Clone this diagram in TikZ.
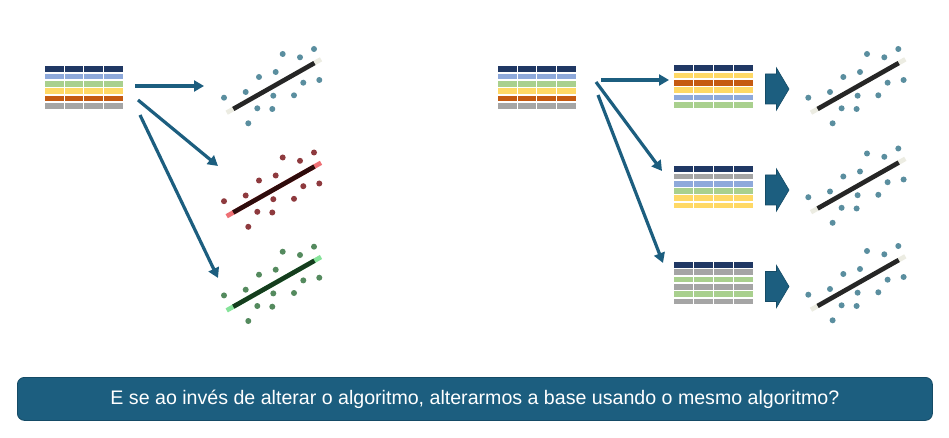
\documentclass[tikz,border=0pt]{standalone}
\usepackage{fontspec}
\setmainfont{Liberation Sans}
\usetikzlibrary{arrows.meta,calc}
\definecolor{navy}{HTML}{203864}
\definecolor{lblue}{HTML}{8EA9DB}
\definecolor{lgreen}{HTML}{A9D08E}
\definecolor{yel}{HTML}{FFD966}
\definecolor{org}{HTML}{C55A11}
\definecolor{gry}{HTML}{A5A5A5}
\definecolor{teal}{HTML}{1C5E7F}
\definecolor{tealdark}{HTML}{154B66}
\definecolor{dotblue}{HTML}{5A8E9F}
\definecolor{dotred}{HTML}{8E3A3E}
\definecolor{dotgreen}{HTML}{548A5E}
\definecolor{tipwhite}{HTML}{ECECE2}
\definecolor{tipred}{HTML}{EE7075}
\definecolor{tipgreen}{HTML}{86E39A}
\definecolor{stickred}{HTML}{2E0C0C}
\definecolor{stickgreen}{HTML}{153D1E}
\newcommand{\tablerows}[4]{% x, y, color list, pitch
  \foreach \c [count=\r from 0] in {#3} {
    \foreach \k in {0,1,2,3} {
      \fill[\c] ({#1+\k*#4},{#2+\r*7.3}) rectangle ++(#4-1.2,5.7);
    }
  }
}
\newcommand{\scatterplot}[5]{% dx, dy, dot color, tip color, stick color
  \begin{scope}[shift={(#1,#2)}]
    \foreach \p in {(282.7,54),(300,57.3),(314,49),(259,77),(275.7,72),(303.3,82.7),(319.3,80),(224,97.7),(245.7,92),(273.3,95.7),(294,95.3),(257.3,108.3),(272.3,109),(248.3,123.3)}
      \fill[#3] \p circle (3.0);
    \coordinate (ws) at (226.7,112.7);
    \coordinate (we) at (321,59.3);
    \draw[#4, line width=4.6] (ws) -- (we);
    \draw[#5, line width=4.6] ($(ws)!0.07!(we)$) -- ($(ws)!0.93!(we)$);
  \end{scope}
}
\tikzset{
  conn/.style={teal, line width=3.2, -{Triangle[length=10,width=11]}},
  blockarrow/.style={fill=teal, draw=tealdark, line width=0.6},
  banner/.style={fill=teal, draw=tealdark, line width=0.8, rounded corners=7}
}
\begin{document}
\begin{tikzpicture}[x=1pt,y=-1pt]
\useasboundingbox (0,0) rectangle (949,438);
\fill[white] (0,0) rectangle (949,438);
% left table
\tablerows{45}{66.5}{navy,lblue,lgreen,yel,org,gry}{19.7}
% left plots
\scatterplot{0}{0}{dotblue}{tipwhite}{black!85}
\scatterplot{0}{103.5}{dotred}{tipred}{stickred}
\scatterplot{0}{197.7}{dotgreen}{tipgreen}{stickgreen}
% left connectors
\coordinate (l1s) at (135,86);  \coordinate (l1e) at (204,86);
\coordinate (l2s) at (138,100); \coordinate (l2e) at (218,166);
\coordinate (l3s) at (140,115); \coordinate (l3e) at (218,278);
\draw[conn] (l1s) -- (l1e);
\draw[conn] (l2s) -- (l2e);
\draw[conn] (l3s) -- (l3e);
% right source table
\tablerows{498}{66.5}{navy,lblue,lgreen,yel,org,gry}{19.7}
% right tables
\tablerows{674}{65.5}{navy,yel,org,yel,lblue,lgreen}{20}
\tablerows{674}{166.3}{navy,gry,lblue,lgreen,yel,yel}{20}
\tablerows{674}{262}{navy,gry,lgreen,gry,lgreen,gry}{20}
% right connectors
\coordinate (r1s) at (601,80);  \coordinate (r1e) at (669,80);
\coordinate (r2s) at (596,82);  \coordinate (r2e) at (662,171);
\coordinate (r3s) at (598,95);  \coordinate (r3e) at (663,263);
\draw[conn] (r1s) -- (r1e);
\draw[conn] (r2s) -- (r2e);
\draw[conn] (r3s) -- (r3e);
% block arrows
\foreach \yc in {89,190,286.5} {
  \draw[blockarrow] (765.5,\yc-15) -- (776.5,\yc-15) -- (776.5,\yc-21) -- (789,\yc) -- (776.5,\yc+21) -- (776.5,\yc+15) -- (765.5,\yc+15) -- cycle;
}
% right plots
\scatterplot{584.3}{0}{dotblue}{tipwhite}{black!85}
\scatterplot{584.3}{99.5}{dotblue}{tipwhite}{black!85}
\scatterplot{584.3}{197}{dotblue}{tipwhite}{black!85}
% banner
\node[banner, minimum width=915, minimum height=43, anchor=north west, inner sep=0] (ban) at (17,377) {};
\node[white, font=\fontsize{19.6}{22}\selectfont] (bantext) at (ban.center) {E se ao invés de alterar o algoritmo, alterarmos a base usando o mesmo algoritmo?};
\end{tikzpicture}
\end{document}
